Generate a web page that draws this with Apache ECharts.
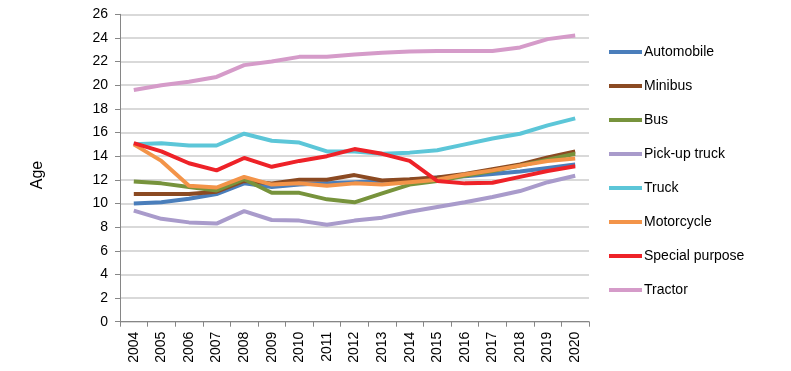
<!DOCTYPE html>
<html><head><meta charset="utf-8">
<script src="https://cdn.jsdelivr.net/npm/echarts@6/dist/echarts.min.js"></script>
<style>html,body{margin:0;padding:0;background:#fff}#c{width:791px;height:371px}</style>
</head><body><div id="c"></div>
<script>
const years = ['2004','2005','2006','2007','2008','2009','2010','2011','2012','2013','2014','2015','2016','2017','2018','2019','2020'];
const automobile = [10.0,10.1,10.4,10.8,11.7,11.4,11.6,11.7,11.8,11.9,12.0,12.2,12.3,12.5,12.7,13.0,13.3];
const minibus = [10.8,10.8,10.8,11.0,11.9,11.7,12.0,12.0,12.4,11.95,12.05,12.2,12.5,12.9,13.3,13.9,14.4];
const bus = [11.85,11.7,11.4,11.1,12.05,10.9,10.9,10.35,10.1,10.85,11.6,11.9,12.35,12.75,13.2,13.7,14.2];
const pickupTruck = [9.4,8.7,8.4,8.3,9.35,8.6,8.55,8.2,8.55,8.8,9.3,9.7,10.1,10.55,11.05,11.8,12.35];
const truck = [15.0,15.1,14.9,14.9,15.9,15.3,15.15,14.4,14.4,14.2,14.3,14.5,15.0,15.5,15.9,16.6,17.2];
const motorcycle = [15.0,13.6,11.5,11.35,12.25,11.6,11.7,11.5,11.7,11.6,11.8,12.0,12.45,12.8,13.2,13.6,13.8];
const specialPurpose = [15.1,14.4,13.4,12.8,13.85,13.1,13.6,14.0,14.6,14.2,13.6,11.9,11.7,11.75,12.25,12.75,13.15];
const tractor = [19.6,20.0,20.3,20.7,21.7,22.0,22.4,22.4,22.6,22.75,22.85,22.9,22.9,22.9,23.2,23.9,24.2];
const seriesNames = ['Automobile','Minibus','Bus','Pick-up truck','Truck','Motorcycle','Special purpose','Tractor'];
const seriesData = [automobile, minibus, bus, pickupTruck, truck, motorcycle, specialPurpose, tractor];
const colors = ['#4A7EBB','#8B4A22','#77933C','#A99BCB','#5CC6D8','#F39449','#EE2228','#D59BC9'];

const chart = echarts.init(document.getElementById('c'));
const font = 'Liberation Sans, Arial, sans-serif';
chart.setOption({
  animation: false,
  color: colors,
  textStyle: { fontFamily: font },
  grid: { left: 120, right: 202, top: 14.3, bottom: 49.3, containLabel: false },
  legend: {
    orient: 'vertical', left: 604, top: 40, itemWidth: 33, itemHeight: 4, itemGap: 20,
    icon: 'rect',
    textStyle: { fontSize: 14, color: '#000', fontFamily: font, padding: [0,0,0,-3] },
    data: seriesNames
  },
  xAxis: {
    type: 'category', data: years, boundaryGap: true,
    axisLine: { lineStyle: { color: '#868686', width: 1 } },
    axisTick: { show: true, length: 5, lineStyle: { color: '#868686' } },
    axisLabel: { rotate: 90, fontSize: 14, color: '#000', margin: 10, fontFamily: font },
    splitLine: { show: false }
  },
  yAxis: {
    type: 'value', min: 0, max: 26, interval: 2,
    name: 'Age', nameLocation: 'middle', nameGap: 74, nameRotate: 90,
    nameTextStyle: { fontSize: 16, color: '#000', fontFamily: font, padding: [0, 14, 0, 0] },
    axisLine: { show: true, lineStyle: { color: '#868686', width: 1 } },
    axisTick: { show: true, length: 5, lineStyle: { color: '#868686' } },
    axisLabel: { fontSize: 14, color: '#000', margin: 12, fontFamily: font },
    splitLine: { show: true, lineStyle: { color: '#D9D9D9', width: 2 } }
  },
  series: seriesNames.map((n, i) => ({
    name: n, type: 'line', data: seriesData[i], showSymbol: false, symbol: 'none',
    lineStyle: { width: 4, color: colors[i] }, itemStyle: { color: colors[i] }
  }))
});
</script></body></html>
